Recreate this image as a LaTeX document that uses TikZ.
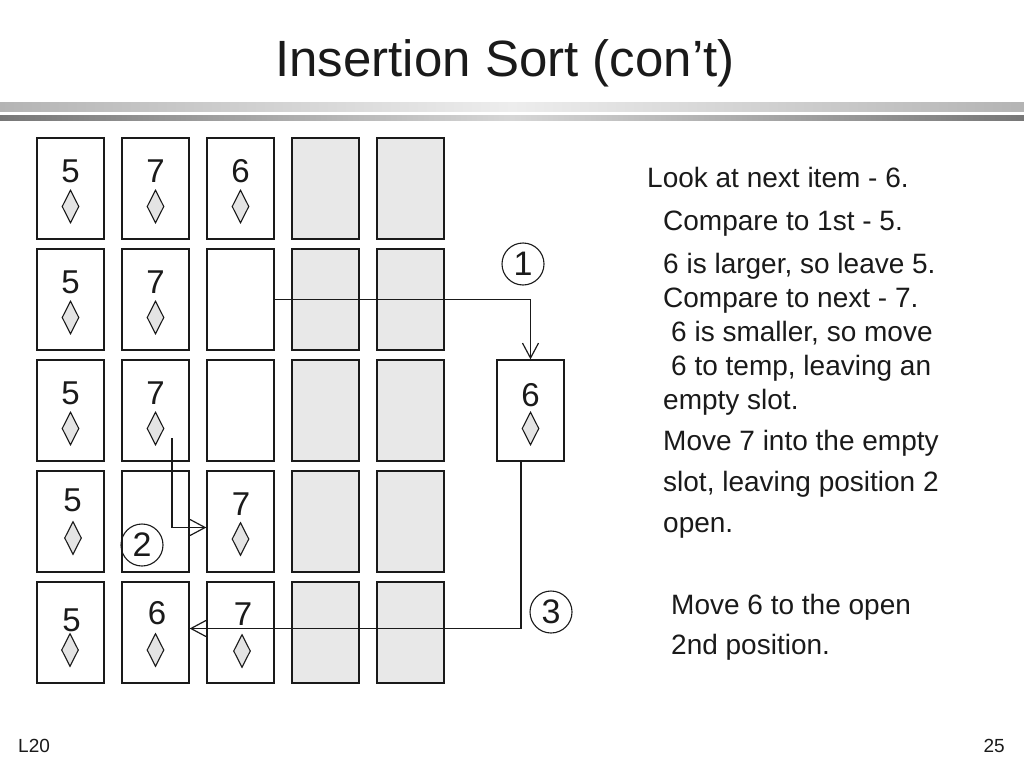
\documentclass[tikz,border=0pt]{standalone}
\usepackage{fontspec}
\setmainfont{Liberation Sans}
\usetikzlibrary{arrows.meta,shapes.geometric,calc}
\definecolor{cardgray}{HTML}{E8E8E8}
\definecolor{suitgray}{HTML}{E4E4E4}
\definecolor{inkc}{HTML}{1A1A1A}
\definecolor{barA}{HTML}{B4B4B4}
\definecolor{barAm}{HTML}{EDEDED}
\definecolor{barB}{HTML}{777777}
\definecolor{barBm}{HTML}{D6D6D6}
\begin{document}
\begin{tikzpicture}[x=1pt,y=-1pt,
  card/.style={draw=inkc, line width=1.3pt, minimum width=67pt, minimum height=101pt, inner sep=0pt, fill=white},
  gcard/.style={card, fill=cardgray},
  num/.style={font=\fontsize{33}{33}\selectfont, inner sep=0pt, text=inkc},
  suit/.style={diamond, draw=inkc, line width=1.1pt, fill=suitgray, minimum width=17pt, minimum height=33pt, inner sep=0pt},
  conn/.style={draw=inkc, line width=1.2pt, -{Straight Barb[length=15pt,width=16pt]}},
  stepcirc/.style={circle, draw=inkc, line width=1.1pt, minimum size=42pt, inner sep=0pt, font=\fontsize{34}{34}\selectfont, text=inkc},
  say/.style={anchor=base west, inner sep=0pt, font=\fontsize{28}{28}\selectfont, text=inkc},
  foot/.style={inner sep=0pt, font=\fontsize{19}{19}\selectfont, text=inkc},
]
\fill[white] (0,0) rectangle (1024,768);
\useasboundingbox (0,0) rectangle (1024,768);

% title and bars
\node[anchor=base, inner sep=0pt, font=\fontsize{51}{51}\selectfont, text=inkc] (title) at (505,77) {Insertion Sort (con’t)};
\shade[left color=barA, right color=barA, middle color=barAm] (0,102) rectangle (1024,111);
\shade[left color=barB, right color=barB, middle color=barBm] (0,115) rectangle (1024,120);

% cards: columns 70.5,155.5,240.5,325.5,410.5 ; rows 188.5,299.5,410.5,521.5,632.5
\foreach \r/\y in {1/188.5,2/299.5,3/410.5,4/521.5,5/632.5}{
  \foreach \c/\x in {1/70.5,2/155.5,3/240.5}{
    \node[card] (c\r\c) at (\x,\y) {};
  }
  \node[gcard] (c\r4) at (325.5,\y) {};
  \node[gcard] (c\r5) at (410.5,\y) {};
}
\node[card] (temp) at (530.5,410.5) {};

% row 1
\node[num] (n11) at (70.5,171) {5};   \node[suit] (d11) at (70.5,206.5) {};
\node[num] (n12) at (155.5,171) {7};  \node[suit] (d12) at (155.5,206.5) {};
\node[num] (n13) at (240.5,171) {6};  \node[suit] (d13) at (240.5,206.5) {};
% row 2
\node[num] (n21) at (70.5,282) {5};   \node[suit] (d21) at (70.5,317.5) {};
\node[num] (n22) at (155.5,282) {7};  \node[suit] (d22) at (155.5,317.5) {};
% row 3
\node[num] (n31) at (70.5,393) {5};   \node[suit] (d31) at (70.5,428.5) {};
\node[num] (n32) at (155.5,393) {7};  \node[suit] (d32) at (155.5,428.5) {};
\node[num] (nt) at (530.5,395) {6};   \node[suit] (dt) at (530.5,428.5) {};
% row 4
\node[num] (n41) at (72.5,500) {5};   \node[suit] (d41) at (73,538) {};
\node[num] (n43) at (241,504) {7};    \node[suit] (d43) at (240.5,539) {};
% row 5
\node[num] (n51) at (71.5,620) {5};   \node[suit] (d51) at (70,650) {};
\node[num] (n52) at (157,613) {6};    \node[suit] (d52) at (155.5,650) {};
\node[num] (n53) at (243,614) {7};    \node[suit] (d53) at (242,651) {};

% step markers
\node[stepcirc] (s1) at (523,264) {1};
\node[stepcirc] (s2) at (142,545) {2};
\node[stepcirc] (s3) at (551,612) {3};

% connectors
\draw[conn] (c23.east) -| (temp.north);
\coordinate (a2s) at (172,438);
\draw[conn] (a2s) |- ([yshift=-6pt]c43.west);
\draw[conn] ([xshift=-9.5pt]temp.south) |- ([yshift=4pt]c52.east);

% explanation text
\node[say] (t1) at (647,187) {Look at next item - 6.};
\node[say] (t2) at (663,230) {Compare to 1st - 5.};
\node[say] (t3) at (663,273) {6 is larger, so leave 5.};
\node[say] (t4) at (663,307) {Compare to next - 7.};
\node[say] (t5) at (671,341) {6 is smaller, so move};
\node[say] (t6) at (671,375) {6 to temp, leaving an};
\node[say] (t7) at (663,409) {empty slot.};
\node[say] (t8) at (663,450) {Move 7 into the empty};
\node[say] (t9) at (663,491) {slot, leaving position 2};
\node[say] (t10) at (663,532) {open.};
\node[say] (t11) at (671,614) {Move 6 to the open};
\node[say] (t12) at (671,654) {2nd position.};

% footer
\node[foot, anchor=base west] (fl) at (18,752) {L20};
\node[foot, anchor=base east] (fr) at (1005,752) {25};
\end{tikzpicture}
\end{document}
